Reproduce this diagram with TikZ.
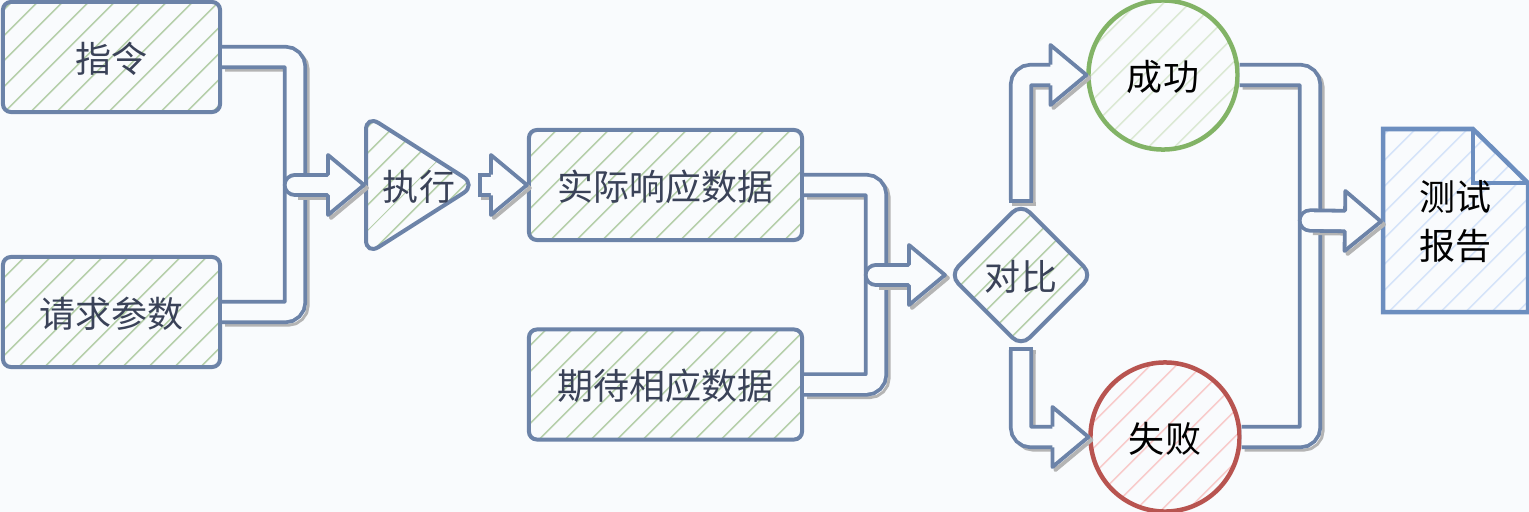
\documentclass[tikz,border=0pt]{standalone}
\usepackage{fontspec}
\usepackage{xcolor}
\usetikzlibrary{arrows.meta,patterns.meta,shapes.geometric}
\newfontfamily\cjk{Noto Sans CJK SC}

\definecolor{bgc}{HTML}{F9FBFD}
\definecolor{slate}{HTML}{6C83A8}
\definecolor{inkc}{HTML}{3A4258}
\definecolor{shadowc}{HTML}{B4B4B4}
\definecolor{hatchgreen}{HTML}{B7D0AC}
\definecolor{passc}{HTML}{82B366}
\definecolor{passhatch}{HTML}{DCE9D5}
\definecolor{failc}{HTML}{B85450}
\definecolor{failhatch}{HTML}{F8CCCC}
\definecolor{docc}{HTML}{6C8EBF}
\definecolor{dochatch}{HTML}{D6E4F9}

% hollow head of the wide arrows, open towards the tail
\pgfdeclarearrow{
  name=FlowHead,
  setup code={
    \pgfarrowssettipend{0pt}
    \pgfarrowssetlineend{-3.5mm}
    \pgfarrowssetvisualbackend{-3.6mm}
    \pgfarrowssetbackend{-3.6mm}
    \pgfarrowsupperhullpoint{-3.6mm}{3mm}
  },
  drawing code={
    \pgfsetfillcolor{bgc}
    \pgfsetlinewidth{.38mm}
    \pgfsetroundjoin
    \pgfpathmoveto{\pgfpoint{-3.6mm}{3mm}}
    \pgfpathlineto{\pgfpoint{0pt}{0pt}}
    \pgfpathlineto{\pgfpoint{-3.6mm}{-3mm}}
    \pgfpathclose
    \pgfusepathqfill
    \pgfpathmoveto{\pgfpoint{-3.6mm}{1.04mm}}
    \pgfpathlineto{\pgfpoint{-3.6mm}{3mm}}
    \pgfpathlineto{\pgfpoint{0pt}{0pt}}
    \pgfpathlineto{\pgfpoint{-3.6mm}{-3mm}}
    \pgfpathlineto{\pgfpoint{-3.6mm}{-1.04mm}}
    \pgfusepathqstroke
  },
  parameters={0},
}

\tikzset{
  every node/.style={font=\cjk\fontsize{10.24}{12.3}\selectfont, text=inkc, inner sep=0pt, outer sep=.2mm, text height=3.5mm, text depth=.5mm},
  hatched/.style={draw=#1, line width=.4mm, pattern={Lines[angle=45,distance=1.9mm,line width=.18mm]}},
  flowbox/.style={hatched=slate, pattern color=hatchgreen, rectangle, rounded corners=.8mm, minimum width=2.17cm, minimum height=1.1cm},
  widebox/.style={flowbox, minimum width=2.73cm},
  flow/.style={draw=slate, line width=.38mm, double=bgc, double distance=1.66mm, rounded corners=1mm,
    preaction={draw=shadowc, line width=.3mm, double=bgc, double distance=1.72mm, transform canvas={shift={(.3mm,-.3mm)}}}},
  flowarrow/.style={flow, -{FlowHead}},
  hubarrow/.style={flowarrow, line cap=round},
  capped/.style={flow, {Bar[width=2.4mm,line width=.38mm]}-{FlowHead}},
  result/.style={hatched=#1, line width=.45mm, circle, text=black, minimum size=1.49cm}
}

\begin{document}
\begin{tikzpicture}[x=.01cm, y=-.01cm]
  \useasboundingbox (0,0) rectangle (1529,512);
  \fill[bgc] (0,0) rectangle (1529,512);

  % Left: inputs and execution
  \node[flowbox] (cmd) at (111.5,57) {指令};
  \node[flowbox] (params) at (111.5,312) {请求参数};
  \node[hatched=slate, pattern color=hatchgreen, isosceles triangle, isosceles triangle stretches,
        rounded corners=1.5mm, minimum width=1.4cm, minimum height=1.1cm, anchor=lower side] (run) at (364,185) {};
  \node (runtext) at (419,185) {执行};
  \coordinate (hubA) at (295,185);
  \draw[flow] (cmd.east) -| (hubA) (params.east) -| (hubA);
  \draw[hubarrow] (hubA) -- (run.lower side);

  % Middle: responses and comparison
  \node[widebox] (actual) at (665.5,185) {实际响应数据};
  \node[widebox] (expected) at (665.5,384.5) {期待相应数据};
  \node[hatched=slate, pattern color=hatchgreen, diamond, rounded corners=1.2mm, minimum size=1.44cm] (cmp) at (1021,275) {对比};
  \coordinate (hubB) at (876,275);
  \draw[capped, shorten <=-.3mm] (run.apex) -- (actual.west);
  \draw[flow] (actual.east) -| (hubB) (expected.east) -| (hubB);
  \draw[hubarrow, shorten >=.2mm] (hubB) -- (cmp.west);

  % Right: results and report
  \node[result=passc, pattern color=passhatch] (pass) at (1163,75) {成功};
  \node[result=failc, pattern color=failhatch] (fail) at (1165,437) {失败};
  \draw[capped, shorten <=-.2mm] (cmp.north) |- (pass.west);
  \draw[capped, shorten <=-.2mm] (cmp.south) |- (fail.west);
  \draw[hatched=docc, line width=.45mm, pattern color=dochatch] (1383,129) -- (1473,129) -- (1528,183) -- (1528,312) -- (1383,312) -- cycle;
  \draw[docc, line width=.45mm] (1473,129) -- (1473,183) -- (1528,183);
  \node[text=black, text height=, text depth=, align=center, minimum width=1.45cm, minimum height=1.83cm] (report) at (1455.5,221.5) {测试\\[.5mm]报告};
  \coordinate (hubC) at (1310,220.5);
  \draw[flow] (pass.east) -| (hubC) (fail.east) -| (hubC);
  \draw[hubarrow] (hubC) -- (report.west);
\end{tikzpicture}
\end{document}
